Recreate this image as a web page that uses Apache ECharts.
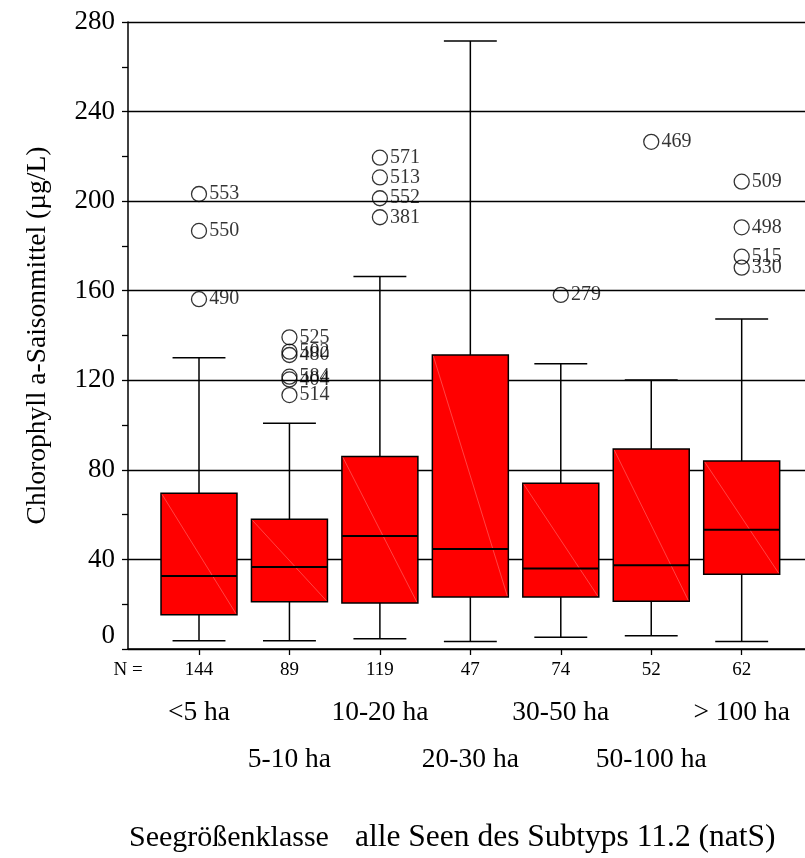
<!DOCTYPE html>
<html>
<head>
<meta charset="utf-8">
<script src="https://cdn.jsdelivr.net/npm/echarts@6/dist/echarts.min.js"></script>
<style>
html,body{margin:0;padding:0;background:#fff;}
#chart{width:805px;height:858px;}
</style>
</head>
<body>
<div id="chart"></div>
<script>
// ---- data ----
var categories = ['<5 ha', '5-10 ha', '10-20 ha', '20-30 ha', '30-50 ha', '50-100 ha', '> 100 ha'];
var nCounts = [144, 89, 119, 47, 74, 52, 62];
var whiskerLow = [3.7, 3.7, 4.6, 3.3, 5.2, 5.9, 3.3];
var q1 = [15.3, 21.1, 20.5, 23.2, 23.2, 21.3, 33.4];
var median = [32.6, 36.6, 50.5, 44.7, 36.0, 37.4, 53.3];
var q3 = [69.5, 57.9, 86.0, 131.3, 74.0, 89.3, 84.0];
var whiskerHigh = [130.1, 100.8, 166.3, 271.5, 127.4, 120.1, 147.4];
var outlierCat = [0, 0, 0, 1, 1, 1, 1, 1, 1, 2, 2, 2, 2, 4, 5, 6, 6, 6, 6];
var outlierValue = [203.2, 186.7, 156.2, 139.2, 132.8, 131.3, 121.6, 120.4, 113.4, 219.4, 210.6, 201.3, 192.8, 158.1, 226.5, 208.7, 188.3, 175.2, 170.3];
var outlierId = ['553', '550', '490', '525', '502', '480', '584', '404', '514', '571', '513', '552', '381', '279', '469', '509', '498', '515', '330'];
var yTicks = [0, 40, 80, 120, 160, 200, 240, 280];

// ---- build ----
var boxData = categories.map(function (c, i) {
  return [i, whiskerLow[i], q1[i], median[i], q3[i], whiskerHigh[i]];
});
var outlierData = outlierValue.map(function (v, k) {
  return [outlierCat[k], v, outlierId[k]];
});
var XMIN = -0.785, XMAX = 6.70;
var FONT = '"Liberation Serif", "Times New Roman", serif';
var idx = categories.map(function (c, i) { return i; });
var evenIdx = idx.filter(function (i) { return i % 2 === 0; });
var oddIdx = idx.filter(function (i) { return i % 2 === 1; });

function renderBox(params, api) {
  var i = api.value(0);
  var band = api.size([1, 0])[0];
  var bw = band * 0.84, cw = band * 0.585;
  var pLow = api.coord([i, api.value(1)]);
  var pQ1 = api.coord([i, api.value(2)]);
  var pMed = api.coord([i, api.value(3)]);
  var pQ3 = api.coord([i, api.value(4)]);
  var pHigh = api.coord([i, api.value(5)]);
  var x = pMed[0];
  var ls = { stroke: '#000', lineWidth: 1.5 };
  return {
    type: 'group',
    children: [
      { type: 'line', shape: { x1: x, y1: pQ3[1], x2: x, y2: pHigh[1] }, style: ls },
      { type: 'line', shape: { x1: x, y1: pQ1[1], x2: x, y2: pLow[1] }, style: ls },
      { type: 'line', shape: { x1: x - cw / 2, y1: pHigh[1], x2: x + cw / 2, y2: pHigh[1] }, style: ls },
      { type: 'line', shape: { x1: x - cw / 2, y1: pLow[1], x2: x + cw / 2, y2: pLow[1] }, style: ls },
      { type: 'rect', shape: { x: x - bw / 2, y: pQ3[1], width: bw, height: pQ1[1] - pQ3[1] },
        style: { fill: '#ff0000', stroke: '#000', lineWidth: 1.5 } },
      { type: 'line', shape: { x1: x - bw / 2 + 1, y1: pQ3[1] + 1, x2: x + bw / 2 - 1, y2: pQ1[1] - 1 },
        style: { stroke: '#ff7070', lineWidth: 0.6 } },
      { type: 'line', shape: { x1: x - bw / 2, y1: pMed[1], x2: x + bw / 2, y2: pMed[1] },
        style: { stroke: '#000', lineWidth: 2 } }
    ]
  };
}

var chart = echarts.init(document.getElementById('chart'), null, { renderer: 'canvas' });
var baseX = { type: 'value', min: XMIN, max: XMAX, position: 'bottom', splitLine: { show: false } };
chart.setOption({
  animation: false,
  backgroundColor: '#fff',
  textStyle: { fontFamily: FONT, color: '#000' },
  title: [
    { text: 'Seegrößenklasse', left: 129, top: 823, padding: 0,
      textStyle: { fontFamily: FONT, fontSize: 30, fontWeight: 'normal', color: '#000' } },
    { text: 'alle Seen des Subtyps 11.2 (natS)', left: 355, top: 822, padding: 0,
      textStyle: { fontFamily: FONT, fontSize: 31.5, fontWeight: 'normal', color: '#000' } }
  ],
  grid: { left: 128, top: 22, right: 0, bottom: 209, containLabel: false },
  xAxis: [
    Object.assign({}, baseX, {
      axisLine: { show: true, onZero: false, lineStyle: { color: '#000', width: 1.5 } },
      axisTick: { show: true, length: 6, customValues: idx, lineStyle: { color: '#000', width: 1.3 } },
      axisLabel: { show: true, customValues: [XMIN].concat(idx), margin: 12, fontFamily: FONT, fontSize: 19, color: '#000',
        formatter: function (v) { return v < 0 ? 'N =' : String(nCounts[Math.round(v)]); } }
    }),
    Object.assign({}, baseX, {
      axisLine: { show: false }, axisTick: { show: false },
      axisLabel: { show: true, customValues: evenIdx, margin: 50, fontFamily: FONT, fontSize: 27.5, color: '#000',
        formatter: function (v) { return categories[Math.round(v)]; } }
    }),
    Object.assign({}, baseX, {
      axisLine: { show: false }, axisTick: { show: false },
      axisLabel: { show: true, customValues: oddIdx, margin: 97, fontFamily: FONT, fontSize: 27.5, color: '#000',
        formatter: function (v) { return categories[Math.round(v)]; } }
    })
  ],
  yAxis: {
    type: 'value', min: 0, max: 280, interval: 40, position: 'left',
    name: 'Chlorophyll a-Saisonmittel (µg/L)', nameLocation: 'middle', nameRotate: 90, nameGap: 76,
    nameTextStyle: { fontFamily: FONT, fontSize: 27.5, color: '#000' },
    axisLine: { show: true, onZero: false, lineStyle: { color: '#000', width: 1.5 } },
    axisTick: { show: true, length: 6, inside: false, lineStyle: { color: '#000', width: 1.3 } },
    minorTick: { show: true, splitNumber: 2, length: 6, lineStyle: { color: '#000', width: 1.3 } },
    splitLine: { show: true, lineStyle: { color: '#000', width: 1.3 } },
    axisLabel: { margin: 13, fontFamily: FONT, fontSize: 27, color: '#000',
      formatter: function (v) { return v === yTicks[0] ? '{z|' + v + '}' : String(v); },
      rich: { z: { fontFamily: FONT, fontSize: 27, color: '#000', padding: [0, 0, 26, 0] } } }
  },
  series: [
    { type: 'custom', xAxisIndex: 0, yAxisIndex: 0, renderItem: renderBox, data: boxData, z: 2,
      encode: { x: 0, y: [1, 2, 3, 4, 5] } },
    { type: 'scatter', xAxisIndex: 0, yAxisIndex: 0, data: outlierData, symbol: 'circle', symbolSize: 15, z: 3,
      itemStyle: { color: 'rgba(0,0,0,0)', borderColor: '#000', borderWidth: 1.3 },
      label: { show: true, position: 'right', distance: 2, fontFamily: FONT, fontSize: 20, color: '#000',
        formatter: function (p) { return p.value[2]; } } }
  ]
});
</script>
</body>
</html>
